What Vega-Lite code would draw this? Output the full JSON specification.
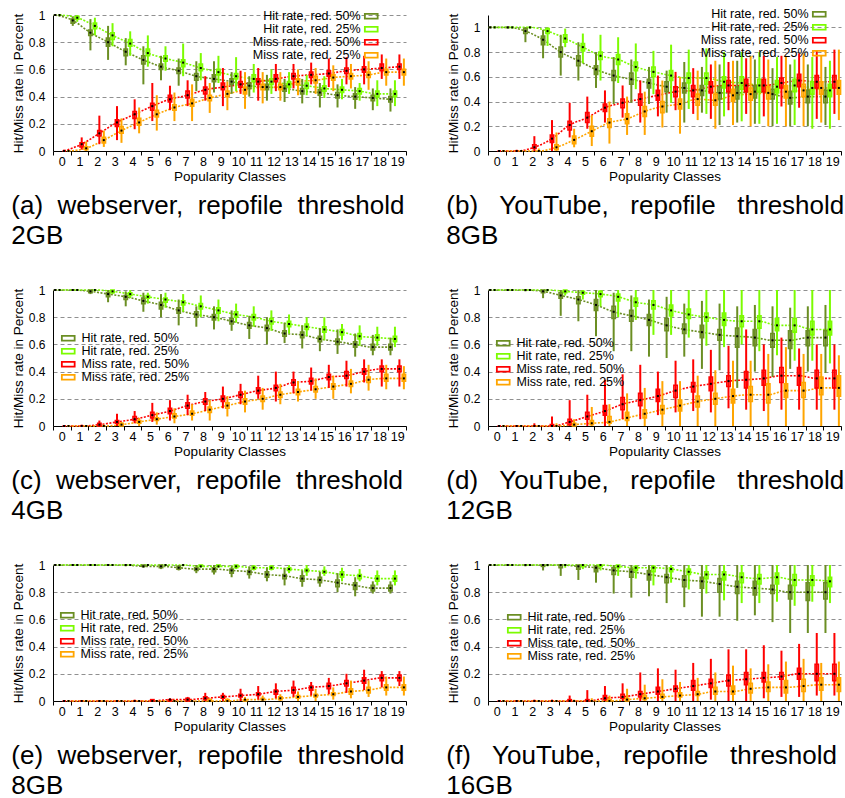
{
"$schema":"https://vega.github.io/schema/vega-lite/v6.json",
"padding":{"left":11,"top":8,"right":0,"bottom":0},
"config":{
 "font":"Liberation Sans",
 "view":{"stroke":null},
 "axis":{"labelFontSize":12,"titleFontSize":13.5,"titleFontWeight":"normal","labelColor":"black","titleColor":"black","domainColor":"black","tickColor":"black","labelFont":"Liberation Sans","titleFont":"Liberation Sans","labelOverlap":false},
 "axisX":{"labelAngle":0,"tickSize":4,"labelPadding":0,"titlePadding":2,"grid":false,"tickBand":"extent","labelFontSize":12.5},
 "axisY":{"grid":true,"gridDash":[4,3],"gridColor":"#909090","ticks":false,"labelPadding":8,"titlePadding":3,"format":"~g","labelOverlap":false,"labelFlush":false,"tickCount":6},
 "legend":{"symbolType":"M-1.6,-0.6H1.6V0.6H-1.6Z","symbolSize":64,"symbolStrokeWidth":1.8,"labelFontSize":12.5,"labelColor":"black","padding":0,"title":null,"labelFont":"Liberation Sans"},
 "title":{"orient":"bottom","anchor":"start","frame":"bounds","fontSize":26,"fontWeight":"normal","lineHeight":29.5,"offset":10,"color":"black","font":"Liberation Sans"}
},
"data":{"values":[
{"p":"a","s":"h50","c":0,"lo":1,"q1":1,"m":1,"q3":1,"hi":1},
{"p":"a","s":"h50","c":1,"lo":0.92,"q1":0.94,"m":0.96,"q3":0.97,"hi":0.99},
{"p":"a","s":"h50","c":2,"lo":0.74,"q1":0.85,"m":0.87,"q3":0.89,"hi":0.97},
{"p":"a","s":"h50","c":3,"lo":0.67,"q1":0.77,"m":0.8,"q3":0.83,"hi":0.92},
{"p":"a","s":"h50","c":4,"lo":0.63,"q1":0.7,"m":0.73,"q3":0.75,"hi":0.83},
{"p":"a","s":"h50","c":5,"lo":0.49,"q1":0.64,"m":0.67,"q3":0.7,"hi":0.77},
{"p":"a","s":"h50","c":6,"lo":0.52,"q1":0.6,"m":0.62,"q3":0.64,"hi":0.7},
{"p":"a","s":"h50","c":7,"lo":0.48,"q1":0.57,"m":0.59,"q3":0.61,"hi":0.68},
{"p":"a","s":"h50","c":8,"lo":0.44,"q1":0.52,"m":0.55,"q3":0.57,"hi":0.66},
{"p":"a","s":"h50","c":9,"lo":0.43,"q1":0.51,"m":0.53,"q3":0.56,"hi":0.66},
{"p":"a","s":"h50","c":10,"lo":0.42,"q1":0.49,"m":0.51,"q3":0.53,"hi":0.58},
{"p":"a","s":"h50","c":11,"lo":0.4,"q1":0.46,"m":0.48,"q3":0.5,"hi":0.55},
{"p":"a","s":"h50","c":12,"lo":0.37,"q1":0.45,"m":0.47,"q3":0.49,"hi":0.56},
{"p":"a","s":"h50","c":13,"lo":0.36,"q1":0.44,"m":0.46,"q3":0.48,"hi":0.53},
{"p":"a","s":"h50","c":14,"lo":0.35,"q1":0.42,"m":0.44,"q3":0.46,"hi":0.53},
{"p":"a","s":"h50","c":15,"lo":0.32,"q1":0.41,"m":0.43,"q3":0.45,"hi":0.5},
{"p":"a","s":"h50","c":16,"lo":0.32,"q1":0.39,"m":0.41,"q3":0.43,"hi":0.49},
{"p":"a","s":"h50","c":17,"lo":0.31,"q1":0.38,"m":0.4,"q3":0.42,"hi":0.47},
{"p":"a","s":"h50","c":18,"lo":0.3,"q1":0.37,"m":0.39,"q3":0.41,"hi":0.46},
{"p":"a","s":"h50","c":19,"lo":0.29,"q1":0.36,"m":0.38,"q3":0.4,"hi":0.46},
{"p":"a","s":"h25","c":0,"lo":1,"q1":1,"m":1,"q3":1,"hi":1},
{"p":"a","s":"h25","c":1,"lo":0.95,"q1":0.97,"m":0.98,"q3":0.99,"hi":1},
{"p":"a","s":"h25","c":2,"lo":0.85,"q1":0.9,"m":0.92,"q3":0.94,"hi":0.98},
{"p":"a","s":"h25","c":3,"lo":0.77,"q1":0.82,"m":0.85,"q3":0.87,"hi":0.94},
{"p":"a","s":"h25","c":4,"lo":0.7,"q1":0.77,"m":0.79,"q3":0.82,"hi":0.88},
{"p":"a","s":"h25","c":5,"lo":0.62,"q1":0.7,"m":0.72,"q3":0.75,"hi":0.85},
{"p":"a","s":"h25","c":6,"lo":0.59,"q1":0.66,"m":0.68,"q3":0.7,"hi":0.77},
{"p":"a","s":"h25","c":7,"lo":0.55,"q1":0.62,"m":0.65,"q3":0.67,"hi":0.79},
{"p":"a","s":"h25","c":8,"lo":0.52,"q1":0.59,"m":0.61,"q3":0.64,"hi":0.72},
{"p":"a","s":"h25","c":9,"lo":0.5,"q1":0.56,"m":0.58,"q3":0.6,"hi":0.7},
{"p":"a","s":"h25","c":10,"lo":0.44,"q1":0.53,"m":0.55,"q3":0.57,"hi":0.69},
{"p":"a","s":"h25","c":11,"lo":0.43,"q1":0.51,"m":0.53,"q3":0.56,"hi":0.64},
{"p":"a","s":"h25","c":12,"lo":0.42,"q1":0.49,"m":0.51,"q3":0.53,"hi":0.6},
{"p":"a","s":"h25","c":13,"lo":0.42,"q1":0.47,"m":0.49,"q3":0.51,"hi":0.58},
{"p":"a","s":"h25","c":14,"lo":0.41,"q1":0.46,"m":0.48,"q3":0.5,"hi":0.56},
{"p":"a","s":"h25","c":15,"lo":0.39,"q1":0.44,"m":0.46,"q3":0.48,"hi":0.55},
{"p":"a","s":"h25","c":16,"lo":0.38,"q1":0.43,"m":0.45,"q3":0.47,"hi":0.53},
{"p":"a","s":"h25","c":17,"lo":0.37,"q1":0.42,"m":0.44,"q3":0.46,"hi":0.5},
{"p":"a","s":"h25","c":18,"lo":0.33,"q1":0.4,"m":0.42,"q3":0.44,"hi":0.52},
{"p":"a","s":"h25","c":19,"lo":0.33,"q1":0.4,"m":0.42,"q3":0.44,"hi":0.52},
{"p":"a","s":"m50","c":0,"lo":0,"q1":0,"m":0,"q3":0,"hi":0.01},
{"p":"a","s":"m50","c":1,"lo":0.01,"q1":0.03,"m":0.05,"q3":0.06,"hi":0.1},
{"p":"a","s":"m50","c":2,"lo":0.05,"q1":0.11,"m":0.13,"q3":0.15,"hi":0.26},
{"p":"a","s":"m50","c":3,"lo":0.08,"q1":0.18,"m":0.21,"q3":0.23,"hi":0.33},
{"p":"a","s":"m50","c":4,"lo":0.16,"q1":0.24,"m":0.27,"q3":0.29,"hi":0.38},
{"p":"a","s":"m50","c":5,"lo":0.22,"q1":0.3,"m":0.33,"q3":0.35,"hi":0.5},
{"p":"a","s":"m50","c":6,"lo":0.3,"q1":0.36,"m":0.38,"q3":0.41,"hi":0.48},
{"p":"a","s":"m50","c":7,"lo":0.33,"q1":0.39,"m":0.41,"q3":0.44,"hi":0.52},
{"p":"a","s":"m50","c":8,"lo":0.37,"q1":0.42,"m":0.45,"q3":0.47,"hi":0.55},
{"p":"a","s":"m50","c":9,"lo":0.33,"q1":0.45,"m":0.47,"q3":0.5,"hi":0.61},
{"p":"a","s":"m50","c":10,"lo":0.42,"q1":0.47,"m":0.49,"q3":0.51,"hi":0.59},
{"p":"a","s":"m50","c":11,"lo":0.37,"q1":0.49,"m":0.51,"q3":0.53,"hi":0.61},
{"p":"a","s":"m50","c":12,"lo":0.44,"q1":0.51,"m":0.53,"q3":0.56,"hi":0.64},
{"p":"a","s":"m50","c":13,"lo":0.46,"q1":0.53,"m":0.55,"q3":0.57,"hi":0.64},
{"p":"a","s":"m50","c":14,"lo":0.49,"q1":0.54,"m":0.56,"q3":0.58,"hi":0.65},
{"p":"a","s":"m50","c":15,"lo":0.47,"q1":0.55,"m":0.57,"q3":0.59,"hi":0.68},
{"p":"a","s":"m50","c":16,"lo":0.49,"q1":0.57,"m":0.59,"q3":0.61,"hi":0.69},
{"p":"a","s":"m50","c":17,"lo":0.49,"q1":0.58,"m":0.6,"q3":0.62,"hi":0.7},
{"p":"a","s":"m50","c":18,"lo":0.53,"q1":0.59,"m":0.61,"q3":0.64,"hi":0.71},
{"p":"a","s":"m50","c":19,"lo":0.53,"q1":0.6,"m":0.62,"q3":0.64,"hi":0.71},
{"p":"a","s":"m25","c":0,"lo":0,"q1":0,"m":0,"q3":0,"hi":0},
{"p":"a","s":"m25","c":1,"lo":0,"q1":0.01,"m":0.02,"q3":0.03,"hi":0.07},
{"p":"a","s":"m25","c":2,"lo":0.03,"q1":0.06,"m":0.08,"q3":0.1,"hi":0.15},
{"p":"a","s":"m25","c":3,"lo":0.06,"q1":0.13,"m":0.15,"q3":0.18,"hi":0.24},
{"p":"a","s":"m25","c":4,"lo":0.13,"q1":0.19,"m":0.21,"q3":0.24,"hi":0.32},
{"p":"a","s":"m25","c":5,"lo":0.15,"q1":0.25,"m":0.27,"q3":0.3,"hi":0.41},
{"p":"a","s":"m25","c":6,"lo":0.22,"q1":0.3,"m":0.32,"q3":0.34,"hi":0.43},
{"p":"a","s":"m25","c":7,"lo":0.22,"q1":0.33,"m":0.35,"q3":0.38,"hi":0.49},
{"p":"a","s":"m25","c":8,"lo":0.28,"q1":0.37,"m":0.39,"q3":0.41,"hi":0.5},
{"p":"a","s":"m25","c":9,"lo":0.3,"q1":0.4,"m":0.42,"q3":0.44,"hi":0.51},
{"p":"a","s":"m25","c":10,"lo":0.31,"q1":0.42,"m":0.45,"q3":0.47,"hi":0.58},
{"p":"a","s":"m25","c":11,"lo":0.35,"q1":0.45,"m":0.47,"q3":0.49,"hi":0.58},
{"p":"a","s":"m25","c":12,"lo":0.37,"q1":0.45,"m":0.47,"q3":0.49,"hi":0.58},
{"p":"a","s":"m25","c":13,"lo":0.41,"q1":0.49,"m":0.51,"q3":0.53,"hi":0.6},
{"p":"a","s":"m25","c":14,"lo":0.42,"q1":0.5,"m":0.52,"q3":0.55,"hi":0.61},
{"p":"a","s":"m25","c":15,"lo":0.44,"q1":0.52,"m":0.54,"q3":0.56,"hi":0.63},
{"p":"a","s":"m25","c":16,"lo":0.46,"q1":0.53,"m":0.55,"q3":0.57,"hi":0.64},
{"p":"a","s":"m25","c":17,"lo":0.45,"q1":0.54,"m":0.56,"q3":0.58,"hi":0.66},
{"p":"a","s":"m25","c":18,"lo":0.48,"q1":0.56,"m":0.58,"q3":0.6,"hi":0.68},
{"p":"a","s":"m25","c":19,"lo":0.48,"q1":0.56,"m":0.58,"q3":0.6,"hi":0.68},
{"p":"b","s":"h50","c":0,"lo":1,"q1":1,"m":1,"q3":1,"hi":1},
{"p":"b","s":"h50","c":1,"lo":0.99,"q1":1,"m":1,"q3":1,"hi":1},
{"p":"b","s":"h50","c":2,"lo":0.88,"q1":0.95,"m":0.97,"q3":0.99,"hi":1},
{"p":"b","s":"h50","c":3,"lo":0.75,"q1":0.86,"m":0.9,"q3":0.93,"hi":0.98},
{"p":"b","s":"h50","c":4,"lo":0.61,"q1":0.76,"m":0.8,"q3":0.84,"hi":0.94},
{"p":"b","s":"h50","c":5,"lo":0.57,"q1":0.69,"m":0.73,"q3":0.77,"hi":0.88},
{"p":"b","s":"h50","c":6,"lo":0.51,"q1":0.62,"m":0.66,"q3":0.69,"hi":0.8},
{"p":"b","s":"h50","c":7,"lo":0.38,"q1":0.57,"m":0.61,"q3":0.65,"hi":0.76},
{"p":"b","s":"h50","c":8,"lo":0.39,"q1":0.54,"m":0.58,"q3":0.63,"hi":0.74},
{"p":"b","s":"h50","c":9,"lo":0.38,"q1":0.51,"m":0.55,"q3":0.58,"hi":0.68},
{"p":"b","s":"h50","c":10,"lo":0.31,"q1":0.48,"m":0.52,"q3":0.56,"hi":0.65},
{"p":"b","s":"h50","c":11,"lo":0.23,"q1":0.47,"m":0.51,"q3":0.55,"hi":0.72},
{"p":"b","s":"h50","c":12,"lo":0.31,"q1":0.45,"m":0.49,"q3":0.53,"hi":0.68},
{"p":"b","s":"h50","c":13,"lo":0.21,"q1":0.42,"m":0.47,"q3":0.52,"hi":0.7},
{"p":"b","s":"h50","c":14,"lo":0.23,"q1":0.42,"m":0.47,"q3":0.52,"hi":0.73},
{"p":"b","s":"h50","c":15,"lo":0.22,"q1":0.43,"m":0.48,"q3":0.53,"hi":0.74},
{"p":"b","s":"h50","c":16,"lo":0.2,"q1":0.42,"m":0.46,"q3":0.5,"hi":0.67},
{"p":"b","s":"h50","c":17,"lo":0.2,"q1":0.38,"m":0.43,"q3":0.48,"hi":0.7},
{"p":"b","s":"h50","c":18,"lo":0.2,"q1":0.39,"m":0.44,"q3":0.49,"hi":0.7},
{"p":"b","s":"h50","c":19,"lo":0.21,"q1":0.39,"m":0.44,"q3":0.49,"hi":0.68},
{"p":"b","s":"h25","c":0,"lo":1,"q1":1,"m":1,"q3":1,"hi":1},
{"p":"b","s":"h25","c":1,"lo":1,"q1":1,"m":1,"q3":1,"hi":1},
{"p":"b","s":"h25","c":2,"lo":0.99,"q1":1,"m":1,"q3":1,"hi":1},
{"p":"b","s":"h25","c":3,"lo":0.85,"q1":0.95,"m":0.97,"q3":0.99,"hi":1},
{"p":"b","s":"h25","c":4,"lo":0.84,"q1":0.88,"m":0.91,"q3":0.94,"hi":0.99},
{"p":"b","s":"h25","c":5,"lo":0.71,"q1":0.81,"m":0.84,"q3":0.87,"hi":0.95},
{"p":"b","s":"h25","c":6,"lo":0.57,"q1":0.74,"m":0.77,"q3":0.8,"hi":0.94},
{"p":"b","s":"h25","c":7,"lo":0.55,"q1":0.7,"m":0.74,"q3":0.78,"hi":0.92},
{"p":"b","s":"h25","c":8,"lo":0.5,"q1":0.65,"m":0.68,"q3":0.72,"hi":0.87},
{"p":"b","s":"h25","c":9,"lo":0.46,"q1":0.6,"m":0.64,"q3":0.68,"hi":0.81},
{"p":"b","s":"h25","c":10,"lo":0.39,"q1":0.57,"m":0.61,"q3":0.65,"hi":0.86},
{"p":"b","s":"h25","c":11,"lo":0.34,"q1":0.55,"m":0.59,"q3":0.63,"hi":0.82},
{"p":"b","s":"h25","c":12,"lo":0.3,"q1":0.54,"m":0.59,"q3":0.63,"hi":0.83},
{"p":"b","s":"h25","c":13,"lo":0.28,"q1":0.51,"m":0.56,"q3":0.6,"hi":0.8},
{"p":"b","s":"h25","c":14,"lo":0.24,"q1":0.5,"m":0.55,"q3":0.6,"hi":0.8},
{"p":"b","s":"h25","c":15,"lo":0.22,"q1":0.48,"m":0.53,"q3":0.58,"hi":0.8},
{"p":"b","s":"h25","c":16,"lo":0.22,"q1":0.47,"m":0.52,"q3":0.57,"hi":0.76},
{"p":"b","s":"h25","c":17,"lo":0.21,"q1":0.48,"m":0.53,"q3":0.58,"hi":0.74},
{"p":"b","s":"h25","c":18,"lo":0.18,"q1":0.46,"m":0.51,"q3":0.56,"hi":0.76},
{"p":"b","s":"h25","c":19,"lo":0.18,"q1":0.44,"m":0.49,"q3":0.54,"hi":0.73},
{"p":"b","s":"m50","c":0,"lo":0,"q1":0,"m":0,"q3":0,"hi":0},
{"p":"b","s":"m50","c":1,"lo":0,"q1":0,"m":0,"q3":0,"hi":0.01},
{"p":"b","s":"m50","c":2,"lo":0,"q1":0.02,"m":0.03,"q3":0.05,"hi":0.12},
{"p":"b","s":"m50","c":3,"lo":0,"q1":0.07,"m":0.1,"q3":0.13,"hi":0.25},
{"p":"b","s":"m50","c":4,"lo":0.11,"q1":0.17,"m":0.21,"q3":0.24,"hi":0.39},
{"p":"b","s":"m50","c":5,"lo":0.18,"q1":0.23,"m":0.27,"q3":0.31,"hi":0.44},
{"p":"b","s":"m50","c":6,"lo":0.23,"q1":0.32,"m":0.35,"q3":0.38,"hi":0.49},
{"p":"b","s":"m50","c":7,"lo":0.27,"q1":0.35,"m":0.39,"q3":0.42,"hi":0.53},
{"p":"b","s":"m50","c":8,"lo":0.23,"q1":0.37,"m":0.42,"q3":0.46,"hi":0.57},
{"p":"b","s":"m50","c":9,"lo":0.28,"q1":0.41,"m":0.45,"q3":0.49,"hi":0.61},
{"p":"b","s":"m50","c":10,"lo":0.33,"q1":0.44,"m":0.48,"q3":0.52,"hi":0.64},
{"p":"b","s":"m50","c":11,"lo":0.3,"q1":0.44,"m":0.49,"q3":0.53,"hi":0.67},
{"p":"b","s":"m50","c":12,"lo":0.26,"q1":0.47,"m":0.52,"q3":0.56,"hi":0.7},
{"p":"b","s":"m50","c":13,"lo":0.33,"q1":0.48,"m":0.53,"q3":0.57,"hi":0.72},
{"p":"b","s":"m50","c":14,"lo":0.3,"q1":0.48,"m":0.53,"q3":0.58,"hi":0.75},
{"p":"b","s":"m50","c":15,"lo":0.28,"q1":0.48,"m":0.53,"q3":0.58,"hi":0.77},
{"p":"b","s":"m50","c":16,"lo":0.36,"q1":0.51,"m":0.55,"q3":0.59,"hi":0.77},
{"p":"b","s":"m50","c":17,"lo":0.35,"q1":0.52,"m":0.57,"q3":0.62,"hi":0.79},
{"p":"b","s":"m50","c":18,"lo":0.26,"q1":0.51,"m":0.56,"q3":0.61,"hi":0.81},
{"p":"b","s":"m50","c":19,"lo":0.3,"q1":0.51,"m":0.56,"q3":0.61,"hi":0.82},
{"p":"b","s":"m25","c":0,"lo":0,"q1":0,"m":0,"q3":0,"hi":0},
{"p":"b","s":"m25","c":1,"lo":0,"q1":0,"m":0,"q3":0,"hi":0},
{"p":"b","s":"m25","c":2,"lo":0,"q1":0,"m":0,"q3":0,"hi":0.02},
{"p":"b","s":"m25","c":3,"lo":0,"q1":0.01,"m":0.03,"q3":0.05,"hi":0.15},
{"p":"b","s":"m25","c":4,"lo":0.03,"q1":0.06,"m":0.09,"q3":0.12,"hi":0.18},
{"p":"b","s":"m25","c":5,"lo":0.04,"q1":0.12,"m":0.16,"q3":0.2,"hi":0.29},
{"p":"b","s":"m25","c":6,"lo":0.06,"q1":0.19,"m":0.23,"q3":0.26,"hi":0.4},
{"p":"b","s":"m25","c":7,"lo":0.13,"q1":0.22,"m":0.26,"q3":0.3,"hi":0.44},
{"p":"b","s":"m25","c":8,"lo":0.13,"q1":0.28,"m":0.32,"q3":0.36,"hi":0.48},
{"p":"b","s":"m25","c":9,"lo":0.19,"q1":0.31,"m":0.36,"q3":0.4,"hi":0.57},
{"p":"b","s":"m25","c":10,"lo":0.14,"q1":0.34,"m":0.38,"q3":0.42,"hi":0.6},
{"p":"b","s":"m25","c":11,"lo":0.25,"q1":0.37,"m":0.42,"q3":0.46,"hi":0.65},
{"p":"b","s":"m25","c":12,"lo":0.18,"q1":0.37,"m":0.41,"q3":0.46,"hi":0.73},
{"p":"b","s":"m25","c":13,"lo":0.21,"q1":0.4,"m":0.45,"q3":0.5,"hi":0.73},
{"p":"b","s":"m25","c":14,"lo":0.2,"q1":0.41,"m":0.46,"q3":0.51,"hi":0.77},
{"p":"b","s":"m25","c":15,"lo":0.2,"q1":0.42,"m":0.47,"q3":0.52,"hi":0.74},
{"p":"b","s":"m25","c":16,"lo":0.2,"q1":0.43,"m":0.48,"q3":0.53,"hi":0.77},
{"p":"b","s":"m25","c":17,"lo":0.2,"q1":0.44,"m":0.49,"q3":0.54,"hi":0.79},
{"p":"b","s":"m25","c":18,"lo":0.23,"q1":0.46,"m":0.51,"q3":0.56,"hi":0.77},
{"p":"b","s":"m25","c":19,"lo":0.25,"q1":0.46,"m":0.51,"q3":0.57,"hi":0.82},
{"p":"c","s":"h50","c":0,"lo":1,"q1":1,"m":1,"q3":1,"hi":1},
{"p":"c","s":"h50","c":1,"lo":1,"q1":1,"m":1,"q3":1,"hi":1},
{"p":"c","s":"h50","c":2,"lo":0.97,"q1":0.98,"m":0.99,"q3":1,"hi":1},
{"p":"c","s":"h50","c":3,"lo":0.91,"q1":0.95,"m":0.97,"q3":0.98,"hi":1},
{"p":"c","s":"h50","c":4,"lo":0.88,"q1":0.93,"m":0.95,"q3":0.96,"hi":0.99},
{"p":"c","s":"h50","c":5,"lo":0.84,"q1":0.9,"m":0.92,"q3":0.94,"hi":0.98},
{"p":"c","s":"h50","c":6,"lo":0.8,"q1":0.86,"m":0.89,"q3":0.91,"hi":0.97},
{"p":"c","s":"h50","c":7,"lo":0.74,"q1":0.83,"m":0.85,"q3":0.87,"hi":0.93},
{"p":"c","s":"h50","c":8,"lo":0.73,"q1":0.8,"m":0.82,"q3":0.84,"hi":0.88},
{"p":"c","s":"h50","c":9,"lo":0.71,"q1":0.78,"m":0.8,"q3":0.82,"hi":0.88},
{"p":"c","s":"h50","c":10,"lo":0.7,"q1":0.75,"m":0.77,"q3":0.79,"hi":0.85},
{"p":"c","s":"h50","c":11,"lo":0.64,"q1":0.72,"m":0.74,"q3":0.76,"hi":0.81},
{"p":"c","s":"h50","c":12,"lo":0.6,"q1":0.7,"m":0.72,"q3":0.74,"hi":0.8},
{"p":"c","s":"h50","c":13,"lo":0.61,"q1":0.66,"m":0.68,"q3":0.7,"hi":0.76},
{"p":"c","s":"h50","c":14,"lo":0.57,"q1":0.65,"m":0.67,"q3":0.69,"hi":0.74},
{"p":"c","s":"h50","c":15,"lo":0.55,"q1":0.62,"m":0.64,"q3":0.66,"hi":0.72},
{"p":"c","s":"h50","c":16,"lo":0.53,"q1":0.6,"m":0.62,"q3":0.64,"hi":0.71},
{"p":"c","s":"h50","c":17,"lo":0.51,"q1":0.58,"m":0.6,"q3":0.62,"hi":0.68},
{"p":"c","s":"h50","c":18,"lo":0.52,"q1":0.56,"m":0.58,"q3":0.6,"hi":0.67},
{"p":"c","s":"h50","c":19,"lo":0.52,"q1":0.56,"m":0.58,"q3":0.6,"hi":0.65},
{"p":"c","s":"h25","c":0,"lo":1,"q1":1,"m":1,"q3":1,"hi":1},
{"p":"c","s":"h25","c":1,"lo":1,"q1":1,"m":1,"q3":1,"hi":1},
{"p":"c","s":"h25","c":2,"lo":0.99,"q1":1,"m":1,"q3":1,"hi":1},
{"p":"c","s":"h25","c":3,"lo":0.97,"q1":0.98,"m":0.99,"q3":1,"hi":1},
{"p":"c","s":"h25","c":4,"lo":0.94,"q1":0.96,"m":0.97,"q3":0.98,"hi":1},
{"p":"c","s":"h25","c":5,"lo":0.9,"q1":0.94,"m":0.95,"q3":0.96,"hi":0.98},
{"p":"c","s":"h25","c":6,"lo":0.87,"q1":0.91,"m":0.93,"q3":0.94,"hi":0.98},
{"p":"c","s":"h25","c":7,"lo":0.84,"q1":0.89,"m":0.91,"q3":0.92,"hi":0.97},
{"p":"c","s":"h25","c":8,"lo":0.8,"q1":0.86,"m":0.88,"q3":0.9,"hi":0.96},
{"p":"c","s":"h25","c":9,"lo":0.77,"q1":0.83,"m":0.85,"q3":0.87,"hi":0.93},
{"p":"c","s":"h25","c":10,"lo":0.76,"q1":0.8,"m":0.82,"q3":0.84,"hi":0.9},
{"p":"c","s":"h25","c":11,"lo":0.73,"q1":0.78,"m":0.8,"q3":0.82,"hi":0.88},
{"p":"c","s":"h25","c":12,"lo":0.7,"q1":0.75,"m":0.77,"q3":0.79,"hi":0.85},
{"p":"c","s":"h25","c":13,"lo":0.68,"q1":0.73,"m":0.75,"q3":0.77,"hi":0.82},
{"p":"c","s":"h25","c":14,"lo":0.66,"q1":0.71,"m":0.73,"q3":0.75,"hi":0.8},
{"p":"c","s":"h25","c":15,"lo":0.63,"q1":0.69,"m":0.71,"q3":0.73,"hi":0.8},
{"p":"c","s":"h25","c":16,"lo":0.63,"q1":0.67,"m":0.69,"q3":0.71,"hi":0.75},
{"p":"c","s":"h25","c":17,"lo":0.59,"q1":0.64,"m":0.66,"q3":0.68,"hi":0.74},
{"p":"c","s":"h25","c":18,"lo":0.59,"q1":0.63,"m":0.65,"q3":0.67,"hi":0.73},
{"p":"c","s":"h25","c":19,"lo":0.58,"q1":0.62,"m":0.64,"q3":0.66,"hi":0.73},
{"p":"c","s":"m50","c":0,"lo":0,"q1":0,"m":0,"q3":0,"hi":0},
{"p":"c","s":"m50","c":1,"lo":0,"q1":0,"m":0,"q3":0,"hi":0.01},
{"p":"c","s":"m50","c":2,"lo":0,"q1":0,"m":0.01,"q3":0.02,"hi":0.04},
{"p":"c","s":"m50","c":3,"lo":0,"q1":0.02,"m":0.03,"q3":0.04,"hi":0.09},
{"p":"c","s":"m50","c":4,"lo":0.02,"q1":0.04,"m":0.05,"q3":0.07,"hi":0.11},
{"p":"c","s":"m50","c":5,"lo":0.03,"q1":0.06,"m":0.08,"q3":0.1,"hi":0.17},
{"p":"c","s":"m50","c":6,"lo":0.04,"q1":0.09,"m":0.11,"q3":0.13,"hi":0.19},
{"p":"c","s":"m50","c":7,"lo":0.08,"q1":0.13,"m":0.15,"q3":0.17,"hi":0.23},
{"p":"c","s":"m50","c":8,"lo":0.11,"q1":0.16,"m":0.18,"q3":0.2,"hi":0.25},
{"p":"c","s":"m50","c":9,"lo":0.13,"q1":0.18,"m":0.2,"q3":0.22,"hi":0.29},
{"p":"c","s":"m50","c":10,"lo":0.16,"q1":0.21,"m":0.23,"q3":0.25,"hi":0.31},
{"p":"c","s":"m50","c":11,"lo":0.2,"q1":0.24,"m":0.26,"q3":0.28,"hi":0.37},
{"p":"c","s":"m50","c":12,"lo":0.18,"q1":0.26,"m":0.28,"q3":0.3,"hi":0.4},
{"p":"c","s":"m50","c":13,"lo":0.24,"q1":0.3,"m":0.32,"q3":0.34,"hi":0.4},
{"p":"c","s":"m50","c":14,"lo":0.26,"q1":0.31,"m":0.33,"q3":0.35,"hi":0.43},
{"p":"c","s":"m50","c":15,"lo":0.28,"q1":0.34,"m":0.36,"q3":0.38,"hi":0.45},
{"p":"c","s":"m50","c":16,"lo":0.29,"q1":0.35,"m":0.37,"q3":0.4,"hi":0.48},
{"p":"c","s":"m50","c":17,"lo":0.32,"q1":0.38,"m":0.4,"q3":0.42,"hi":0.49},
{"p":"c","s":"m50","c":18,"lo":0.29,"q1":0.4,"m":0.42,"q3":0.44,"hi":0.49},
{"p":"c","s":"m50","c":19,"lo":0.29,"q1":0.4,"m":0.42,"q3":0.44,"hi":0.49},
{"p":"c","s":"m25","c":0,"lo":0,"q1":0,"m":0,"q3":0,"hi":0},
{"p":"c","s":"m25","c":1,"lo":0,"q1":0,"m":0,"q3":0,"hi":0},
{"p":"c","s":"m25","c":2,"lo":0,"q1":0,"m":0,"q3":0,"hi":0.01},
{"p":"c","s":"m25","c":3,"lo":0,"q1":0,"m":0.01,"q3":0.02,"hi":0.03},
{"p":"c","s":"m25","c":4,"lo":0,"q1":0.02,"m":0.03,"q3":0.04,"hi":0.06},
{"p":"c","s":"m25","c":5,"lo":0.01,"q1":0.04,"m":0.05,"q3":0.06,"hi":0.1},
{"p":"c","s":"m25","c":6,"lo":0.02,"q1":0.06,"m":0.07,"q3":0.09,"hi":0.13},
{"p":"c","s":"m25","c":7,"lo":0.04,"q1":0.08,"m":0.09,"q3":0.11,"hi":0.16},
{"p":"c","s":"m25","c":8,"lo":0.04,"q1":0.1,"m":0.12,"q3":0.14,"hi":0.19},
{"p":"c","s":"m25","c":9,"lo":0.07,"q1":0.13,"m":0.15,"q3":0.17,"hi":0.22},
{"p":"c","s":"m25","c":10,"lo":0.1,"q1":0.16,"m":0.18,"q3":0.2,"hi":0.26},
{"p":"c","s":"m25","c":11,"lo":0.12,"q1":0.18,"m":0.2,"q3":0.22,"hi":0.28},
{"p":"c","s":"m25","c":12,"lo":0.16,"q1":0.21,"m":0.23,"q3":0.25,"hi":0.31},
{"p":"c","s":"m25","c":13,"lo":0.18,"q1":0.23,"m":0.25,"q3":0.27,"hi":0.33},
{"p":"c","s":"m25","c":14,"lo":0.2,"q1":0.25,"m":0.27,"q3":0.29,"hi":0.35},
{"p":"c","s":"m25","c":15,"lo":0.2,"q1":0.27,"m":0.29,"q3":0.31,"hi":0.37},
{"p":"c","s":"m25","c":16,"lo":0.24,"q1":0.29,"m":0.31,"q3":0.33,"hi":0.42},
{"p":"c","s":"m25","c":17,"lo":0.26,"q1":0.32,"m":0.34,"q3":0.36,"hi":0.45},
{"p":"c","s":"m25","c":18,"lo":0.27,"q1":0.33,"m":0.35,"q3":0.38,"hi":0.45},
{"p":"c","s":"m25","c":19,"lo":0.27,"q1":0.33,"m":0.35,"q3":0.38,"hi":0.44},
{"p":"d","s":"h50","c":0,"lo":1,"q1":1,"m":1,"q3":1,"hi":1},
{"p":"d","s":"h50","c":1,"lo":1,"q1":1,"m":1,"q3":1,"hi":1},
{"p":"d","s":"h50","c":2,"lo":0.99,"q1":1,"m":1,"q3":1,"hi":1},
{"p":"d","s":"h50","c":3,"lo":0.94,"q1":0.98,"m":0.99,"q3":1,"hi":1},
{"p":"d","s":"h50","c":4,"lo":0.81,"q1":0.94,"m":0.96,"q3":0.98,"hi":1},
{"p":"d","s":"h50","c":5,"lo":0.77,"q1":0.9,"m":0.93,"q3":0.95,"hi":1},
{"p":"d","s":"h50","c":6,"lo":0.66,"q1":0.85,"m":0.89,"q3":0.93,"hi":1},
{"p":"d","s":"h50","c":7,"lo":0.55,"q1":0.79,"m":0.84,"q3":0.88,"hi":0.98},
{"p":"d","s":"h50","c":8,"lo":0.55,"q1":0.77,"m":0.81,"q3":0.85,"hi":0.96},
{"p":"d","s":"h50","c":9,"lo":0.51,"q1":0.74,"m":0.78,"q3":0.82,"hi":0.93},
{"p":"d","s":"h50","c":10,"lo":0.5,"q1":0.7,"m":0.74,"q3":0.79,"hi":0.95},
{"p":"d","s":"h50","c":11,"lo":0.51,"q1":0.68,"m":0.71,"q3":0.75,"hi":0.9},
{"p":"d","s":"h50","c":12,"lo":0.42,"q1":0.65,"m":0.69,"q3":0.74,"hi":0.92},
{"p":"d","s":"h50","c":13,"lo":0.41,"q1":0.63,"m":0.67,"q3":0.71,"hi":0.9},
{"p":"d","s":"h50","c":14,"lo":0.28,"q1":0.58,"m":0.66,"q3":0.72,"hi":0.88},
{"p":"d","s":"h50","c":15,"lo":0.4,"q1":0.59,"m":0.65,"q3":0.71,"hi":0.89},
{"p":"d","s":"h50","c":16,"lo":0.36,"q1":0.58,"m":0.63,"q3":0.68,"hi":0.88},
{"p":"d","s":"h50","c":17,"lo":0.42,"q1":0.57,"m":0.63,"q3":0.7,"hi":0.87},
{"p":"d","s":"h50","c":18,"lo":0.4,"q1":0.59,"m":0.65,"q3":0.7,"hi":0.88},
{"p":"d","s":"h50","c":19,"lo":0.39,"q1":0.59,"m":0.65,"q3":0.7,"hi":0.89},
{"p":"d","s":"h25","c":0,"lo":1,"q1":1,"m":1,"q3":1,"hi":1},
{"p":"d","s":"h25","c":1,"lo":1,"q1":1,"m":1,"q3":1,"hi":1},
{"p":"d","s":"h25","c":2,"lo":1,"q1":1,"m":1,"q3":1,"hi":1},
{"p":"d","s":"h25","c":3,"lo":0.99,"q1":1,"m":1,"q3":1,"hi":1},
{"p":"d","s":"h25","c":4,"lo":0.96,"q1":0.98,"m":0.99,"q3":1,"hi":1},
{"p":"d","s":"h25","c":5,"lo":0.93,"q1":0.97,"m":0.98,"q3":0.99,"hi":1},
{"p":"d","s":"h25","c":6,"lo":0.88,"q1":0.95,"m":0.97,"q3":0.99,"hi":1},
{"p":"d","s":"h25","c":7,"lo":0.8,"q1":0.92,"m":0.95,"q3":0.97,"hi":1},
{"p":"d","s":"h25","c":8,"lo":0.78,"q1":0.88,"m":0.91,"q3":0.94,"hi":1},
{"p":"d","s":"h25","c":9,"lo":0.67,"q1":0.86,"m":0.89,"q3":0.92,"hi":1},
{"p":"d","s":"h25","c":10,"lo":0.67,"q1":0.81,"m":0.85,"q3":0.89,"hi":1},
{"p":"d","s":"h25","c":11,"lo":0.65,"q1":0.79,"m":0.82,"q3":0.86,"hi":1},
{"p":"d","s":"h25","c":12,"lo":0.59,"q1":0.77,"m":0.8,"q3":0.83,"hi":1},
{"p":"d","s":"h25","c":13,"lo":0.58,"q1":0.74,"m":0.78,"q3":0.83,"hi":1},
{"p":"d","s":"h25","c":14,"lo":0.6,"q1":0.73,"m":0.77,"q3":0.81,"hi":1},
{"p":"d","s":"h25","c":15,"lo":0.55,"q1":0.72,"m":0.77,"q3":0.81,"hi":1},
{"p":"d","s":"h25","c":16,"lo":0.52,"q1":0.7,"m":0.74,"q3":0.79,"hi":1},
{"p":"d","s":"h25","c":17,"lo":0.48,"q1":0.69,"m":0.74,"q3":0.79,"hi":1},
{"p":"d","s":"h25","c":18,"lo":0.48,"q1":0.67,"m":0.71,"q3":0.77,"hi":1},
{"p":"d","s":"h25","c":19,"lo":0.46,"q1":0.67,"m":0.71,"q3":0.77,"hi":1},
{"p":"d","s":"m50","c":0,"lo":0,"q1":0,"m":0,"q3":0,"hi":0},
{"p":"d","s":"m50","c":1,"lo":0,"q1":0,"m":0,"q3":0,"hi":0},
{"p":"d","s":"m50","c":2,"lo":0,"q1":0,"m":0,"q3":0,"hi":0.02},
{"p":"d","s":"m50","c":3,"lo":0,"q1":0,"m":0,"q3":0.01,"hi":0.07},
{"p":"d","s":"m50","c":4,"lo":0,"q1":0.01,"m":0.03,"q3":0.05,"hi":0.19},
{"p":"d","s":"m50","c":5,"lo":0,"q1":0.05,"m":0.07,"q3":0.1,"hi":0.23},
{"p":"d","s":"m50","c":6,"lo":0,"q1":0.08,"m":0.11,"q3":0.15,"hi":0.34},
{"p":"d","s":"m50","c":7,"lo":0.05,"q1":0.12,"m":0.16,"q3":0.21,"hi":0.38},
{"p":"d","s":"m50","c":8,"lo":0.05,"q1":0.15,"m":0.19,"q3":0.24,"hi":0.45},
{"p":"d","s":"m50","c":9,"lo":0.08,"q1":0.18,"m":0.22,"q3":0.27,"hi":0.4},
{"p":"d","s":"m50","c":10,"lo":0.1,"q1":0.21,"m":0.26,"q3":0.3,"hi":0.48},
{"p":"d","s":"m50","c":11,"lo":0.11,"q1":0.25,"m":0.29,"q3":0.32,"hi":0.49},
{"p":"d","s":"m50","c":12,"lo":0.1,"q1":0.26,"m":0.31,"q3":0.36,"hi":0.56},
{"p":"d","s":"m50","c":13,"lo":0.13,"q1":0.29,"m":0.33,"q3":0.37,"hi":0.59},
{"p":"d","s":"m50","c":14,"lo":0.12,"q1":0.28,"m":0.34,"q3":0.4,"hi":0.71},
{"p":"d","s":"m50","c":15,"lo":0.11,"q1":0.3,"m":0.35,"q3":0.41,"hi":0.6},
{"p":"d","s":"m50","c":16,"lo":0.12,"q1":0.32,"m":0.37,"q3":0.43,"hi":0.65},
{"p":"d","s":"m50","c":17,"lo":0.12,"q1":0.3,"m":0.37,"q3":0.43,"hi":0.57},
{"p":"d","s":"m50","c":18,"lo":0.12,"q1":0.28,"m":0.35,"q3":0.41,"hi":0.6},
{"p":"d","s":"m50","c":19,"lo":0.12,"q1":0.28,"m":0.35,"q3":0.41,"hi":0.6},
{"p":"d","s":"m25","c":0,"lo":0,"q1":0,"m":0,"q3":0,"hi":0},
{"p":"d","s":"m25","c":1,"lo":0,"q1":0,"m":0,"q3":0,"hi":0},
{"p":"d","s":"m25","c":2,"lo":0,"q1":0,"m":0,"q3":0,"hi":0},
{"p":"d","s":"m25","c":3,"lo":0,"q1":0,"m":0,"q3":0,"hi":0.02},
{"p":"d","s":"m25","c":4,"lo":0,"q1":0,"m":0.01,"q3":0.02,"hi":0.05},
{"p":"d","s":"m25","c":5,"lo":0,"q1":0.01,"m":0.02,"q3":0.04,"hi":0.14},
{"p":"d","s":"m25","c":6,"lo":0,"q1":0.02,"m":0.03,"q3":0.07,"hi":0.16},
{"p":"d","s":"m25","c":7,"lo":0,"q1":0.04,"m":0.06,"q3":0.1,"hi":0.24},
{"p":"d","s":"m25","c":8,"lo":0,"q1":0.06,"m":0.09,"q3":0.12,"hi":0.28},
{"p":"d","s":"m25","c":9,"lo":0,"q1":0.09,"m":0.12,"q3":0.15,"hi":0.33},
{"p":"d","s":"m25","c":10,"lo":0,"q1":0.11,"m":0.15,"q3":0.19,"hi":0.33},
{"p":"d","s":"m25","c":11,"lo":0,"q1":0.14,"m":0.18,"q3":0.22,"hi":0.37},
{"p":"d","s":"m25","c":12,"lo":0,"q1":0.16,"m":0.2,"q3":0.24,"hi":0.41},
{"p":"d","s":"m25","c":13,"lo":0,"q1":0.17,"m":0.22,"q3":0.27,"hi":0.48},
{"p":"d","s":"m25","c":14,"lo":0,"q1":0.18,"m":0.23,"q3":0.29,"hi":0.48},
{"p":"d","s":"m25","c":15,"lo":0,"q1":0.17,"m":0.23,"q3":0.31,"hi":0.53},
{"p":"d","s":"m25","c":16,"lo":0,"q1":0.21,"m":0.26,"q3":0.31,"hi":0.58},
{"p":"d","s":"m25","c":17,"lo":0,"q1":0.21,"m":0.26,"q3":0.32,"hi":0.53},
{"p":"d","s":"m25","c":18,"lo":0,"q1":0.23,"m":0.28,"q3":0.36,"hi":0.53},
{"p":"d","s":"m25","c":19,"lo":0,"q1":0.22,"m":0.28,"q3":0.37,"hi":0.52},
{"p":"e","s":"h50","c":0,"lo":1,"q1":1,"m":1,"q3":1,"hi":1},
{"p":"e","s":"h50","c":1,"lo":1,"q1":1,"m":1,"q3":1,"hi":1},
{"p":"e","s":"h50","c":2,"lo":1,"q1":1,"m":1,"q3":1,"hi":1},
{"p":"e","s":"h50","c":3,"lo":1,"q1":1,"m":1,"q3":1,"hi":1},
{"p":"e","s":"h50","c":4,"lo":0.99,"q1":1,"m":1,"q3":1,"hi":1},
{"p":"e","s":"h50","c":5,"lo":0.98,"q1":0.99,"m":0.99,"q3":1,"hi":1},
{"p":"e","s":"h50","c":6,"lo":0.97,"q1":0.98,"m":0.99,"q3":1,"hi":1},
{"p":"e","s":"h50","c":7,"lo":0.96,"q1":0.97,"m":0.98,"q3":0.99,"hi":1},
{"p":"e","s":"h50","c":8,"lo":0.94,"q1":0.96,"m":0.97,"q3":0.98,"hi":1},
{"p":"e","s":"h50","c":9,"lo":0.93,"q1":0.95,"m":0.97,"q3":0.98,"hi":1},
{"p":"e","s":"h50","c":10,"lo":0.91,"q1":0.94,"m":0.96,"q3":0.97,"hi":0.99},
{"p":"e","s":"h50","c":11,"lo":0.9,"q1":0.93,"m":0.95,"q3":0.96,"hi":0.99},
{"p":"e","s":"h50","c":12,"lo":0.88,"q1":0.91,"m":0.93,"q3":0.95,"hi":0.98},
{"p":"e","s":"h50","c":13,"lo":0.85,"q1":0.9,"m":0.92,"q3":0.93,"hi":0.98},
{"p":"e","s":"h50","c":14,"lo":0.84,"q1":0.88,"m":0.9,"q3":0.92,"hi":0.96},
{"p":"e","s":"h50","c":15,"lo":0.84,"q1":0.87,"m":0.89,"q3":0.91,"hi":0.95},
{"p":"e","s":"h50","c":16,"lo":0.8,"q1":0.84,"m":0.87,"q3":0.89,"hi":0.94},
{"p":"e","s":"h50","c":17,"lo":0.77,"q1":0.82,"m":0.85,"q3":0.87,"hi":0.91},
{"p":"e","s":"h50","c":18,"lo":0.79,"q1":0.81,"m":0.83,"q3":0.85,"hi":0.88},
{"p":"e","s":"h50","c":19,"lo":0.79,"q1":0.81,"m":0.83,"q3":0.85,"hi":0.88},
{"p":"e","s":"h25","c":0,"lo":1,"q1":1,"m":1,"q3":1,"hi":1},
{"p":"e","s":"h25","c":1,"lo":1,"q1":1,"m":1,"q3":1,"hi":1},
{"p":"e","s":"h25","c":2,"lo":1,"q1":1,"m":1,"q3":1,"hi":1},
{"p":"e","s":"h25","c":3,"lo":1,"q1":1,"m":1,"q3":1,"hi":1},
{"p":"e","s":"h25","c":4,"lo":1,"q1":1,"m":1,"q3":1,"hi":1},
{"p":"e","s":"h25","c":5,"lo":1,"q1":1,"m":1,"q3":1,"hi":1},
{"p":"e","s":"h25","c":6,"lo":0.99,"q1":1,"m":1,"q3":1,"hi":1},
{"p":"e","s":"h25","c":7,"lo":0.99,"q1":1,"m":1,"q3":1,"hi":1},
{"p":"e","s":"h25","c":8,"lo":0.98,"q1":0.99,"m":0.99,"q3":1,"hi":1},
{"p":"e","s":"h25","c":9,"lo":0.98,"q1":0.99,"m":0.99,"q3":1,"hi":1},
{"p":"e","s":"h25","c":10,"lo":0.97,"q1":0.98,"m":0.99,"q3":1,"hi":1},
{"p":"e","s":"h25","c":11,"lo":0.96,"q1":0.97,"m":0.98,"q3":0.99,"hi":1},
{"p":"e","s":"h25","c":12,"lo":0.96,"q1":0.97,"m":0.98,"q3":0.99,"hi":1},
{"p":"e","s":"h25","c":13,"lo":0.94,"q1":0.96,"m":0.97,"q3":0.98,"hi":1},
{"p":"e","s":"h25","c":14,"lo":0.92,"q1":0.95,"m":0.96,"q3":0.97,"hi":1},
{"p":"e","s":"h25","c":15,"lo":0.92,"q1":0.94,"m":0.95,"q3":0.96,"hi":0.99},
{"p":"e","s":"h25","c":16,"lo":0.88,"q1":0.91,"m":0.93,"q3":0.95,"hi":0.98},
{"p":"e","s":"h25","c":17,"lo":0.88,"q1":0.9,"m":0.92,"q3":0.93,"hi":0.97},
{"p":"e","s":"h25","c":18,"lo":0.85,"q1":0.88,"m":0.9,"q3":0.92,"hi":0.96},
{"p":"e","s":"h25","c":19,"lo":0.85,"q1":0.88,"m":0.9,"q3":0.92,"hi":0.96},
{"p":"e","s":"m50","c":0,"lo":0,"q1":0,"m":0,"q3":0,"hi":0},
{"p":"e","s":"m50","c":1,"lo":0,"q1":0,"m":0,"q3":0,"hi":0},
{"p":"e","s":"m50","c":2,"lo":0,"q1":0,"m":0,"q3":0,"hi":0},
{"p":"e","s":"m50","c":3,"lo":0,"q1":0,"m":0,"q3":0,"hi":0},
{"p":"e","s":"m50","c":4,"lo":0,"q1":0,"m":0,"q3":0,"hi":0.01},
{"p":"e","s":"m50","c":5,"lo":0,"q1":0,"m":0,"q3":0.01,"hi":0.01},
{"p":"e","s":"m50","c":6,"lo":0,"q1":0,"m":0.01,"q3":0.01,"hi":0.02},
{"p":"e","s":"m50","c":7,"lo":0,"q1":0,"m":0.01,"q3":0.02,"hi":0.03},
{"p":"e","s":"m50","c":8,"lo":0,"q1":0.01,"m":0.02,"q3":0.03,"hi":0.06},
{"p":"e","s":"m50","c":9,"lo":0,"q1":0.02,"m":0.03,"q3":0.04,"hi":0.06},
{"p":"e","s":"m50","c":10,"lo":0,"q1":0.03,"m":0.04,"q3":0.05,"hi":0.09},
{"p":"e","s":"m50","c":11,"lo":0.01,"q1":0.04,"m":0.05,"q3":0.06,"hi":0.11},
{"p":"e","s":"m50","c":12,"lo":0.02,"q1":0.05,"m":0.07,"q3":0.08,"hi":0.13},
{"p":"e","s":"m50","c":13,"lo":0.03,"q1":0.06,"m":0.08,"q3":0.1,"hi":0.15},
{"p":"e","s":"m50","c":14,"lo":0.04,"q1":0.08,"m":0.1,"q3":0.11,"hi":0.14},
{"p":"e","s":"m50","c":15,"lo":0.05,"q1":0.09,"m":0.11,"q3":0.13,"hi":0.17},
{"p":"e","s":"m50","c":16,"lo":0.06,"q1":0.11,"m":0.13,"q3":0.15,"hi":0.2},
{"p":"e","s":"m50","c":17,"lo":0.08,"q1":0.13,"m":0.15,"q3":0.17,"hi":0.23},
{"p":"e","s":"m50","c":18,"lo":0.1,"q1":0.15,"m":0.17,"q3":0.19,"hi":0.22},
{"p":"e","s":"m50","c":19,"lo":0.11,"q1":0.15,"m":0.17,"q3":0.19,"hi":0.22},
{"p":"e","s":"m25","c":0,"lo":0,"q1":0,"m":0,"q3":0,"hi":0},
{"p":"e","s":"m25","c":1,"lo":0,"q1":0,"m":0,"q3":0,"hi":0},
{"p":"e","s":"m25","c":2,"lo":0,"q1":0,"m":0,"q3":0,"hi":0},
{"p":"e","s":"m25","c":3,"lo":0,"q1":0,"m":0,"q3":0,"hi":0},
{"p":"e","s":"m25","c":4,"lo":0,"q1":0,"m":0,"q3":0,"hi":0},
{"p":"e","s":"m25","c":5,"lo":0,"q1":0,"m":0,"q3":0,"hi":0},
{"p":"e","s":"m25","c":6,"lo":0,"q1":0,"m":0,"q3":0,"hi":0.01},
{"p":"e","s":"m25","c":7,"lo":0,"q1":0,"m":0,"q3":0,"hi":0.01},
{"p":"e","s":"m25","c":8,"lo":0,"q1":0,"m":0,"q3":0.01,"hi":0.02},
{"p":"e","s":"m25","c":9,"lo":0,"q1":0,"m":0,"q3":0.01,"hi":0.02},
{"p":"e","s":"m25","c":10,"lo":0,"q1":0,"m":0.01,"q3":0.01,"hi":0.03},
{"p":"e","s":"m25","c":11,"lo":0,"q1":0.01,"m":0.01,"q3":0.02,"hi":0.04},
{"p":"e","s":"m25","c":12,"lo":0,"q1":0.01,"m":0.02,"q3":0.03,"hi":0.05},
{"p":"e","s":"m25","c":13,"lo":0,"q1":0.02,"m":0.03,"q3":0.04,"hi":0.07},
{"p":"e","s":"m25","c":14,"lo":0,"q1":0.03,"m":0.04,"q3":0.05,"hi":0.09},
{"p":"e","s":"m25","c":15,"lo":0.01,"q1":0.04,"m":0.05,"q3":0.06,"hi":0.1},
{"p":"e","s":"m25","c":16,"lo":0.02,"q1":0.05,"m":0.07,"q3":0.09,"hi":0.15},
{"p":"e","s":"m25","c":17,"lo":0.03,"q1":0.06,"m":0.08,"q3":0.1,"hi":0.15},
{"p":"e","s":"m25","c":18,"lo":0.04,"q1":0.08,"m":0.1,"q3":0.12,"hi":0.18},
{"p":"e","s":"m25","c":19,"lo":0.04,"q1":0.08,"m":0.1,"q3":0.12,"hi":0.18},
{"p":"f","s":"h50","c":0,"lo":1,"q1":1,"m":1,"q3":1,"hi":1},
{"p":"f","s":"h50","c":1,"lo":1,"q1":1,"m":1,"q3":1,"hi":1},
{"p":"f","s":"h50","c":2,"lo":0.99,"q1":1,"m":1,"q3":1,"hi":1},
{"p":"f","s":"h50","c":3,"lo":0.96,"q1":0.99,"m":1,"q3":1,"hi":1},
{"p":"f","s":"h50","c":4,"lo":0.92,"q1":0.98,"m":1,"q3":1,"hi":1},
{"p":"f","s":"h50","c":5,"lo":0.89,"q1":0.97,"m":0.99,"q3":1,"hi":1},
{"p":"f","s":"h50","c":6,"lo":0.87,"q1":0.95,"m":0.98,"q3":0.99,"hi":1},
{"p":"f","s":"h50","c":7,"lo":0.79,"q1":0.93,"m":0.96,"q3":0.98,"hi":1},
{"p":"f","s":"h50","c":8,"lo":0.76,"q1":0.91,"m":0.95,"q3":0.97,"hi":1},
{"p":"f","s":"h50","c":9,"lo":0.77,"q1":0.89,"m":0.93,"q3":0.96,"hi":1},
{"p":"f","s":"h50","c":10,"lo":0.72,"q1":0.87,"m":0.91,"q3":0.93,"hi":1},
{"p":"f","s":"h50","c":11,"lo":0.69,"q1":0.84,"m":0.89,"q3":0.92,"hi":1},
{"p":"f","s":"h50","c":12,"lo":0.62,"q1":0.83,"m":0.88,"q3":0.91,"hi":1},
{"p":"f","s":"h50","c":13,"lo":0.62,"q1":0.8,"m":0.86,"q3":0.9,"hi":1},
{"p":"f","s":"h50","c":14,"lo":0.59,"q1":0.79,"m":0.84,"q3":0.88,"hi":1},
{"p":"f","s":"h50","c":15,"lo":0.63,"q1":0.78,"m":0.83,"q3":0.88,"hi":1},
{"p":"f","s":"h50","c":16,"lo":0.58,"q1":0.79,"m":0.82,"q3":0.85,"hi":1},
{"p":"f","s":"h50","c":17,"lo":0.5,"q1":0.75,"m":0.8,"q3":0.85,"hi":1},
{"p":"f","s":"h50","c":18,"lo":0.5,"q1":0.74,"m":0.8,"q3":0.87,"hi":1},
{"p":"f","s":"h50","c":19,"lo":0.5,"q1":0.75,"m":0.8,"q3":0.87,"hi":1},
{"p":"f","s":"h25","c":0,"lo":1,"q1":1,"m":1,"q3":1,"hi":1},
{"p":"f","s":"h25","c":1,"lo":1,"q1":1,"m":1,"q3":1,"hi":1},
{"p":"f","s":"h25","c":2,"lo":1,"q1":1,"m":1,"q3":1,"hi":1},
{"p":"f","s":"h25","c":3,"lo":0.99,"q1":1,"m":1,"q3":1,"hi":1},
{"p":"f","s":"h25","c":4,"lo":0.98,"q1":1,"m":1,"q3":1,"hi":1},
{"p":"f","s":"h25","c":5,"lo":0.97,"q1":0.99,"m":1,"q3":1,"hi":1},
{"p":"f","s":"h25","c":6,"lo":0.96,"q1":0.99,"m":1,"q3":1,"hi":1},
{"p":"f","s":"h25","c":7,"lo":0.92,"q1":0.98,"m":0.99,"q3":1,"hi":1},
{"p":"f","s":"h25","c":8,"lo":0.9,"q1":0.96,"m":0.98,"q3":0.99,"hi":1},
{"p":"f","s":"h25","c":9,"lo":0.85,"q1":0.95,"m":0.98,"q3":0.99,"hi":1},
{"p":"f","s":"h25","c":10,"lo":0.87,"q1":0.95,"m":0.97,"q3":0.98,"hi":1},
{"p":"f","s":"h25","c":11,"lo":0.82,"q1":0.93,"m":0.95,"q3":0.97,"hi":1},
{"p":"f","s":"h25","c":12,"lo":0.79,"q1":0.9,"m":0.93,"q3":0.95,"hi":1},
{"p":"f","s":"h25","c":13,"lo":0.74,"q1":0.89,"m":0.93,"q3":0.95,"hi":1},
{"p":"f","s":"h25","c":14,"lo":0.72,"q1":0.87,"m":0.91,"q3":0.94,"hi":1},
{"p":"f","s":"h25","c":15,"lo":0.72,"q1":0.86,"m":0.9,"q3":0.93,"hi":1},
{"p":"f","s":"h25","c":16,"lo":0.73,"q1":0.86,"m":0.91,"q3":0.94,"hi":1},
{"p":"f","s":"h25","c":17,"lo":0.7,"q1":0.85,"m":0.89,"q3":0.93,"hi":1},
{"p":"f","s":"h25","c":18,"lo":0.73,"q1":0.85,"m":0.89,"q3":0.92,"hi":1},
{"p":"f","s":"h25","c":19,"lo":0.72,"q1":0.84,"m":0.88,"q3":0.91,"hi":1},
{"p":"f","s":"m50","c":0,"lo":0,"q1":0,"m":0,"q3":0,"hi":0},
{"p":"f","s":"m50","c":1,"lo":0,"q1":0,"m":0,"q3":0,"hi":0},
{"p":"f","s":"m50","c":2,"lo":0,"q1":0,"m":0,"q3":0,"hi":0.01},
{"p":"f","s":"m50","c":3,"lo":0,"q1":0,"m":0,"q3":0,"hi":0.01},
{"p":"f","s":"m50","c":4,"lo":0,"q1":0,"m":0,"q3":0.01,"hi":0.04},
{"p":"f","s":"m50","c":5,"lo":0,"q1":0,"m":0,"q3":0.01,"hi":0.08},
{"p":"f","s":"m50","c":6,"lo":0,"q1":0.01,"m":0.02,"q3":0.04,"hi":0.11},
{"p":"f","s":"m50","c":7,"lo":0,"q1":0.02,"m":0.03,"q3":0.05,"hi":0.13},
{"p":"f","s":"m50","c":8,"lo":0,"q1":0.03,"m":0.05,"q3":0.07,"hi":0.21},
{"p":"f","s":"m50","c":9,"lo":0,"q1":0.05,"m":0.07,"q3":0.1,"hi":0.24},
{"p":"f","s":"m50","c":10,"lo":0,"q1":0.07,"m":0.09,"q3":0.11,"hi":0.23},
{"p":"f","s":"m50","c":11,"lo":0,"q1":0.08,"m":0.11,"q3":0.15,"hi":0.28},
{"p":"f","s":"m50","c":12,"lo":0.01,"q1":0.1,"m":0.13,"q3":0.16,"hi":0.31},
{"p":"f","s":"m50","c":13,"lo":0,"q1":0.11,"m":0.15,"q3":0.19,"hi":0.38},
{"p":"f","s":"m50","c":14,"lo":0,"q1":0.12,"m":0.16,"q3":0.21,"hi":0.38},
{"p":"f","s":"m50","c":15,"lo":0.02,"q1":0.14,"m":0.17,"q3":0.21,"hi":0.41},
{"p":"f","s":"m50","c":16,"lo":0.03,"q1":0.16,"m":0.18,"q3":0.21,"hi":0.37},
{"p":"f","s":"m50","c":17,"lo":0.03,"q1":0.16,"m":0.2,"q3":0.24,"hi":0.42},
{"p":"f","s":"m50","c":18,"lo":0.04,"q1":0.15,"m":0.2,"q3":0.27,"hi":0.5},
{"p":"f","s":"m50","c":19,"lo":0.04,"q1":0.15,"m":0.2,"q3":0.27,"hi":0.5},
{"p":"f","s":"m25","c":0,"lo":0,"q1":0,"m":0,"q3":0,"hi":0},
{"p":"f","s":"m25","c":1,"lo":0,"q1":0,"m":0,"q3":0,"hi":0},
{"p":"f","s":"m25","c":2,"lo":0,"q1":0,"m":0,"q3":0,"hi":0},
{"p":"f","s":"m25","c":3,"lo":0,"q1":0,"m":0,"q3":0,"hi":0},
{"p":"f","s":"m25","c":4,"lo":0,"q1":0,"m":0,"q3":0,"hi":0.01},
{"p":"f","s":"m25","c":5,"lo":0,"q1":0,"m":0,"q3":0,"hi":0.02},
{"p":"f","s":"m25","c":6,"lo":0,"q1":0,"m":0,"q3":0.01,"hi":0.04},
{"p":"f","s":"m25","c":7,"lo":0,"q1":0,"m":0.01,"q3":0.02,"hi":0.09},
{"p":"f","s":"m25","c":8,"lo":0,"q1":0.01,"m":0.02,"q3":0.04,"hi":0.12},
{"p":"f","s":"m25","c":9,"lo":0,"q1":0.02,"m":0.03,"q3":0.05,"hi":0.16},
{"p":"f","s":"m25","c":10,"lo":0,"q1":0.03,"m":0.04,"q3":0.06,"hi":0.14},
{"p":"f","s":"m25","c":11,"lo":0,"q1":0.04,"m":0.05,"q3":0.07,"hi":0.17},
{"p":"f","s":"m25","c":12,"lo":0,"q1":0.05,"m":0.07,"q3":0.1,"hi":0.21},
{"p":"f","s":"m25","c":13,"lo":0,"q1":0.05,"m":0.07,"q3":0.11,"hi":0.26},
{"p":"f","s":"m25","c":14,"lo":0,"q1":0.06,"m":0.09,"q3":0.13,"hi":0.24},
{"p":"f","s":"m25","c":15,"lo":0,"q1":0.07,"m":0.1,"q3":0.14,"hi":0.27},
{"p":"f","s":"m25","c":16,"lo":0,"q1":0.06,"m":0.1,"q3":0.15,"hi":0.29},
{"p":"f","s":"m25","c":17,"lo":0,"q1":0.07,"m":0.11,"q3":0.16,"hi":0.31},
{"p":"f","s":"m25","c":18,"lo":0,"q1":0.08,"m":0.12,"q3":0.17,"hi":0.28},
{"p":"f","s":"m25","c":19,"lo":0,"q1":0.07,"m":0.12,"q3":0.17,"hi":0.29}
]},
"spacing":35,
"resolve":{"scale":{"x":"independent","y":"independent","color":"independent","xOffset":"independent"},"legend":{"color":"independent"},"axis":{"x":"independent","y":"independent"}},
"vconcat":[
{"hconcat":[
 {"width":353,"height":136,"transform":[{"filter":"datum.p=='a'"}],
  "title":{"text":["(a)\u00a0 webserver,\u00a0 repofile\u00a0 threshold","2GB"]},
  "encoding":{"x":{"field":"c","type":"ordinal","title":"Popularity Classes","scale":{"paddingInner":0,"paddingOuter":0}},
   "xOffset":{"field":"s","type":"nominal","scale":{"domain":["h50","h25","m50","m25"],"paddingInner":0.25,"paddingOuter":0.1}},
   "color":{"field":"s","type":"nominal","scale":{"domain":["h50","h25","m50","m25"],"range":["#6b8e23","#7cfc00","#ff0000","#ffa500"]},
    "legend":{"orient":"none","legendX":312,"legendY":-5,"labelAlign":"right","labelOffset":-17,"rowPadding":-2,"labelExpr":"{'h50':'Hit rate, red. 50%','h25':'Hit rate, red. 25%','m50':'Miss rate, red. 50%','m25':'Miss rate, red. 25%'}[datum.label]"}}},
  "layer":[
   {"mark":{"type":"line","interpolate":"monotone","strokeDash":[2,1.5],"strokeWidth":1.6},"encoding":{"y":{"field":"m","type":"quantitative","title":"Hit/Miss rate in Percent","scale":{"domain":[0,1]},"axis":{"values":[0,0.2,0.4,0.6,0.8,1],"tickCount":6}}}},
   {"mark":{"type":"rule","strokeWidth":2},"encoding":{"y":{"field":"lo","type":"quantitative","title":"Hit/Miss rate in Percent","axis":{"values":[0,0.2,0.4,0.6,0.8,1],"tickCount":6}},"y2":{"field":"hi"}}},
   {"mark":{"type":"bar","filled":false,"strokeWidth":1.6},"encoding":{"y":{"field":"q1","type":"quantitative","title":"Hit/Miss rate in Percent","axis":{"values":[0,0.2,0.4,0.6,0.8,1],"tickCount":6}},"y2":{"field":"q3"}}},
   {"mark":{"type":"square","size":4,"opacity":1,"filled":true},"encoding":{"y":{"field":"m","type":"quantitative","title":"Hit/Miss rate in Percent","axis":{"values":[0,0.2,0.4,0.6,0.8,1],"tickCount":6}},"color":{"value":"black"}}}
  ]},
 {"width":353,"height":136,"transform":[{"filter":"datum.p=='b'"}],
  "title":{"text":["(b)\u00a0\u00a0 YouTube,\u00a0\u00a0 repofile\u00a0\u00a0 threshold","8GB"]},
  "encoding":{"x":{"field":"c","type":"ordinal","title":"Popularity Classes","scale":{"paddingInner":0,"paddingOuter":0}},
   "xOffset":{"field":"s","type":"nominal","scale":{"domain":["h50","h25","m50","m25"],"paddingInner":0.25,"paddingOuter":0.1}},
   "color":{"field":"s","type":"nominal","scale":{"domain":["h50","h25","m50","m25"],"range":["#6b8e23","#7cfc00","#ff0000","#ffa500"]},
    "legend":{"orient":"none","legendX":325,"legendY":-7,"labelAlign":"right","labelOffset":-17,"rowPadding":-2,"labelExpr":"{'h50':'Hit rate, red. 50%','h25':'Hit rate, red. 25%','m50':'Miss rate, red. 50%','m25':'Miss rate, red. 25%'}[datum.label]"}}},
  "layer":[
   {"mark":{"type":"line","interpolate":"monotone","strokeDash":[2,1.5],"strokeWidth":1.6},"encoding":{"y":{"field":"m","type":"quantitative","title":"Hit/Miss rate in Percent","scale":{"domain":[0,1.1]},"axis":{"values":[0,0.2,0.4,0.6,0.8,1],"tickCount":6}}}},
   {"mark":{"type":"rule","strokeWidth":2},"encoding":{"y":{"field":"lo","type":"quantitative","title":"Hit/Miss rate in Percent","axis":{"values":[0,0.2,0.4,0.6,0.8,1],"tickCount":6}},"y2":{"field":"hi"}}},
   {"mark":{"type":"bar","filled":false,"strokeWidth":1.6},"encoding":{"y":{"field":"q1","type":"quantitative","title":"Hit/Miss rate in Percent","axis":{"values":[0,0.2,0.4,0.6,0.8,1],"tickCount":6}},"y2":{"field":"q3"}}},
   {"mark":{"type":"square","size":4,"opacity":1,"filled":true},"encoding":{"y":{"field":"m","type":"quantitative","title":"Hit/Miss rate in Percent","axis":{"values":[0,0.2,0.4,0.6,0.8,1],"tickCount":6}},"color":{"value":"black"}}}
  ]}
 ],"spacing":38,"resolve":{"scale":{"x":"independent","y":"independent","color":"independent","xOffset":"independent"},"legend":{"color":"independent"}}},
{"hconcat":[
 {"width":353,"height":136,"transform":[{"filter":"datum.p=='c'"}],
  "title":{"text":["(c)\u00a0 webserver,\u00a0 repofile\u00a0 threshold","4GB"]},
  "encoding":{"x":{"field":"c","type":"ordinal","title":"Popularity Classes","scale":{"paddingInner":0,"paddingOuter":0}},
   "xOffset":{"field":"s","type":"nominal","scale":{"domain":["h50","h25","m50","m25"],"paddingInner":0.25,"paddingOuter":0.1}},
   "color":{"field":"s","type":"nominal","scale":{"domain":["h50","h25","m50","m25"],"range":["#6b8e23","#7cfc00","#ff0000","#ffa500"]},
    "legend":{"orient":"none","legendX":9,"legendY":42,"labelOffset":7,"rowPadding":-0.5,"labelExpr":"{'h50':'Hit rate, red. 50%','h25':'Hit rate, red. 25%','m50':'Miss rate, red. 50%','m25':'Miss rate, red. 25%'}[datum.label]"}}},
  "layer":[
   {"mark":{"type":"line","interpolate":"monotone","strokeDash":[2,1.5],"strokeWidth":1.6},"encoding":{"y":{"field":"m","type":"quantitative","title":"Hit/Miss rate in Percent","scale":{"domain":[0,1]},"axis":{"values":[0,0.2,0.4,0.6,0.8,1],"tickCount":6}}}},
   {"mark":{"type":"rule","strokeWidth":2},"encoding":{"y":{"field":"lo","type":"quantitative","title":"Hit/Miss rate in Percent","axis":{"values":[0,0.2,0.4,0.6,0.8,1],"tickCount":6}},"y2":{"field":"hi"}}},
   {"mark":{"type":"bar","filled":false,"strokeWidth":1.6},"encoding":{"y":{"field":"q1","type":"quantitative","title":"Hit/Miss rate in Percent","axis":{"values":[0,0.2,0.4,0.6,0.8,1],"tickCount":6}},"y2":{"field":"q3"}}},
   {"mark":{"type":"square","size":4,"opacity":1,"filled":true},"encoding":{"y":{"field":"m","type":"quantitative","title":"Hit/Miss rate in Percent","axis":{"values":[0,0.2,0.4,0.6,0.8,1],"tickCount":6}},"color":{"value":"black"}}}
  ]},
 {"width":353,"height":136,"transform":[{"filter":"datum.p=='d'"}],
  "title":{"text":["(d)\u00a0\u00a0 YouTube,\u00a0\u00a0 repofile\u00a0\u00a0 threshold","12GB"]},
  "encoding":{"x":{"field":"c","type":"ordinal","title":"Popularity Classes","scale":{"paddingInner":0,"paddingOuter":0}},
   "xOffset":{"field":"s","type":"nominal","scale":{"domain":["h50","h25","m50","m25"],"paddingInner":0.25,"paddingOuter":0.1}},
   "color":{"field":"s","type":"nominal","scale":{"domain":["h50","h25","m50","m25"],"range":["#6b8e23","#7cfc00","#ff0000","#ffa500"]},
    "legend":{"orient":"none","legendX":9,"legendY":47,"labelOffset":7,"rowPadding":-0.5,"labelExpr":"{'h50':'Hit rate, red. 50%','h25':'Hit rate, red. 25%','m50':'Miss rate, red. 50%','m25':'Miss rate, red. 25%'}[datum.label]"}}},
  "layer":[
   {"mark":{"type":"line","interpolate":"monotone","strokeDash":[2,1.5],"strokeWidth":1.6},"encoding":{"y":{"field":"m","type":"quantitative","title":"Hit/Miss rate in Percent","scale":{"domain":[0,1]},"axis":{"values":[0,0.2,0.4,0.6,0.8,1],"tickCount":6}}}},
   {"mark":{"type":"rule","strokeWidth":2},"encoding":{"y":{"field":"lo","type":"quantitative","title":"Hit/Miss rate in Percent","axis":{"values":[0,0.2,0.4,0.6,0.8,1],"tickCount":6}},"y2":{"field":"hi"}}},
   {"mark":{"type":"bar","filled":false,"strokeWidth":1.6},"encoding":{"y":{"field":"q1","type":"quantitative","title":"Hit/Miss rate in Percent","axis":{"values":[0,0.2,0.4,0.6,0.8,1],"tickCount":6}},"y2":{"field":"q3"}}},
   {"mark":{"type":"square","size":4,"opacity":1,"filled":true},"encoding":{"y":{"field":"m","type":"quantitative","title":"Hit/Miss rate in Percent","axis":{"values":[0,0.2,0.4,0.6,0.8,1],"tickCount":6}},"color":{"value":"black"}}}
  ]}
 ],"spacing":38,"resolve":{"scale":{"x":"independent","y":"independent","color":"independent","xOffset":"independent"},"legend":{"color":"independent"}}},
{"hconcat":[
 {"width":353,"height":136,"transform":[{"filter":"datum.p=='e'"}],
  "title":{"text":["(e)\u00a0 webserver,\u00a0 repofile\u00a0 threshold","8GB"]},
  "encoding":{"x":{"field":"c","type":"ordinal","title":"Popularity Classes","scale":{"paddingInner":0,"paddingOuter":0}},
   "xOffset":{"field":"s","type":"nominal","scale":{"domain":["h50","h25","m50","m25"],"paddingInner":0.25,"paddingOuter":0.1}},
   "color":{"field":"s","type":"nominal","scale":{"domain":["h50","h25","m50","m25"],"range":["#6b8e23","#7cfc00","#ff0000","#ffa500"]},
    "legend":{"orient":"none","legendX":8,"legendY":44,"labelOffset":7,"rowPadding":0,"labelExpr":"{'h50':'Hit rate, red. 50%','h25':'Hit rate, red. 25%','m50':'Miss rate, red. 50%','m25':'Miss rate, red. 25%'}[datum.label]"}}},
  "layer":[
   {"mark":{"type":"line","interpolate":"monotone","strokeDash":[2,1.5],"strokeWidth":1.6},"encoding":{"y":{"field":"m","type":"quantitative","title":"Hit/Miss rate in Percent","scale":{"domain":[0,1]},"axis":{"values":[0,0.2,0.4,0.6,0.8,1],"tickCount":6}}}},
   {"mark":{"type":"rule","strokeWidth":2},"encoding":{"y":{"field":"lo","type":"quantitative","title":"Hit/Miss rate in Percent","axis":{"values":[0,0.2,0.4,0.6,0.8,1],"tickCount":6}},"y2":{"field":"hi"}}},
   {"mark":{"type":"bar","filled":false,"strokeWidth":1.6},"encoding":{"y":{"field":"q1","type":"quantitative","title":"Hit/Miss rate in Percent","axis":{"values":[0,0.2,0.4,0.6,0.8,1],"tickCount":6}},"y2":{"field":"q3"}}},
   {"mark":{"type":"square","size":4,"opacity":1,"filled":true},"encoding":{"y":{"field":"m","type":"quantitative","title":"Hit/Miss rate in Percent","axis":{"values":[0,0.2,0.4,0.6,0.8,1],"tickCount":6}},"color":{"value":"black"}}}
  ]},
 {"width":353,"height":136,"transform":[{"filter":"datum.p=='f'"}],
  "title":{"text":["(f)\u00a0\u00a0 YouTube,\u00a0\u00a0 repofile\u00a0\u00a0 threshold","16GB"]},
  "encoding":{"x":{"field":"c","type":"ordinal","title":"Popularity Classes","scale":{"paddingInner":0,"paddingOuter":0}},
   "xOffset":{"field":"s","type":"nominal","scale":{"domain":["h50","h25","m50","m25"],"paddingInner":0.25,"paddingOuter":0.1}},
   "color":{"field":"s","type":"nominal","scale":{"domain":["h50","h25","m50","m25"],"range":["#6b8e23","#7cfc00","#ff0000","#ffa500"]},
    "legend":{"orient":"none","legendX":20,"legendY":46,"labelOffset":7,"rowPadding":-0.5,"labelExpr":"{'h50':'Hit rate, red. 50%','h25':'Hit rate, red. 25%','m50':'Miss rate, red. 50%','m25':'Miss rate, red. 25%'}[datum.label]"}}},
  "layer":[
   {"mark":{"type":"line","interpolate":"monotone","strokeDash":[2,1.5],"strokeWidth":1.6},"encoding":{"y":{"field":"m","type":"quantitative","title":"Hit/Miss rate in Percent","scale":{"domain":[0,1]},"axis":{"values":[0,0.2,0.4,0.6,0.8,1],"tickCount":6}}}},
   {"mark":{"type":"rule","strokeWidth":2},"encoding":{"y":{"field":"lo","type":"quantitative","title":"Hit/Miss rate in Percent","axis":{"values":[0,0.2,0.4,0.6,0.8,1],"tickCount":6}},"y2":{"field":"hi"}}},
   {"mark":{"type":"bar","filled":false,"strokeWidth":1.6},"encoding":{"y":{"field":"q1","type":"quantitative","title":"Hit/Miss rate in Percent","axis":{"values":[0,0.2,0.4,0.6,0.8,1],"tickCount":6}},"y2":{"field":"q3"}}},
   {"mark":{"type":"square","size":4,"opacity":1,"filled":true},"encoding":{"y":{"field":"m","type":"quantitative","title":"Hit/Miss rate in Percent","axis":{"values":[0,0.2,0.4,0.6,0.8,1],"tickCount":6}},"color":{"value":"black"}}}
  ]}
 ],"spacing":38,"resolve":{"scale":{"x":"independent","y":"independent","color":"independent","xOffset":"independent"},"legend":{"color":"independent"}}}
]
}
